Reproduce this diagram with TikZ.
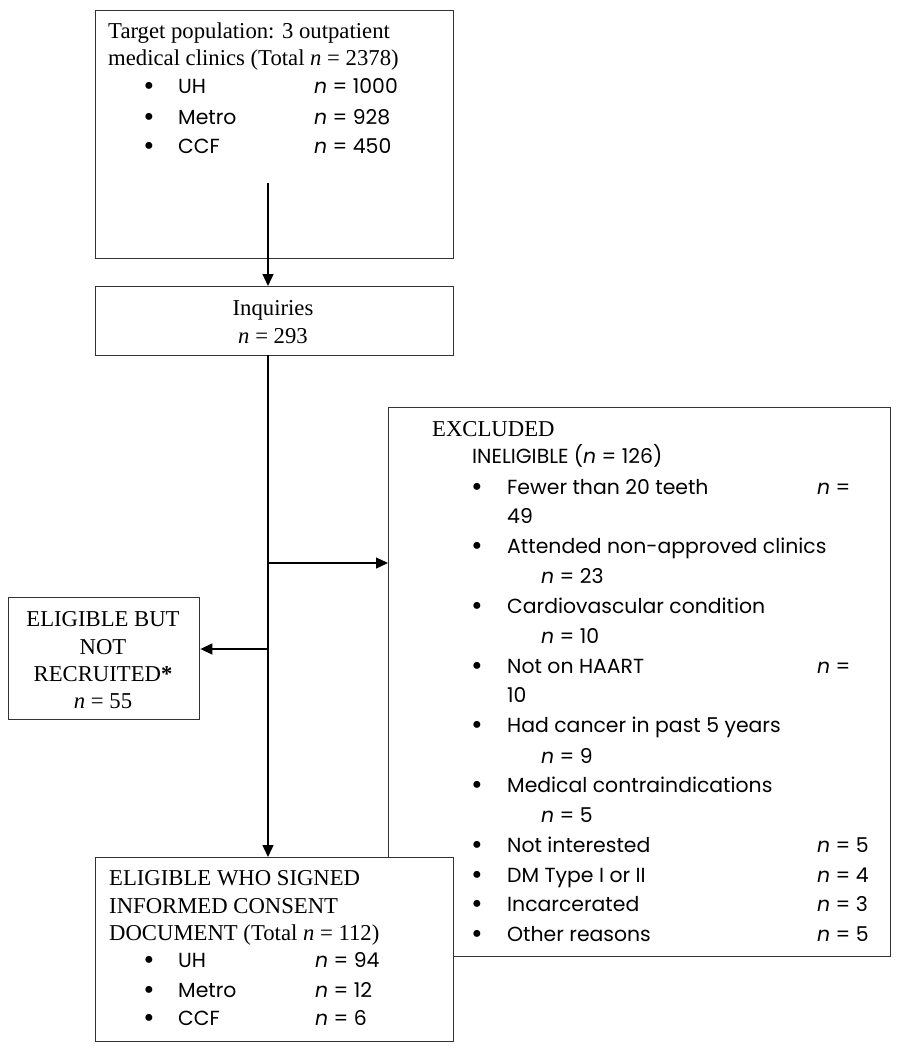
\documentclass[tikz,border=0pt]{standalone}
\usepackage{fontspec}
\setmainfont{Liberation Serif}
\newfontfamily\gothic{Poppins}
\usetikzlibrary{arrows.meta}
\tikzset{
  box/.style={draw=black!80, line width=1.4pt, inner sep=0pt, anchor=north west},
  arr/.style={draw=black, line width=1.4pt, -{Triangle[length=12pt,width=11pt]}},
  rm/.style={inner sep=0pt, anchor=base west, font=\fontsize{22.7}{27}\selectfont},
  rmc/.style={inner sep=0pt, anchor=base, font=\fontsize{22.7}{27}\selectfont},
  sf/.style={inner sep=0pt, anchor=base west, font=\gothic\fontsize{20.4}{27}\selectfont},
  bul/.style={inner sep=0pt, anchor=base, font=\fontsize{29}{27}\selectfont},
}
\begin{document}
\begin{tikzpicture}[x=1pt,y=-1pt]
\useasboundingbox[fill=white] (0,0) rectangle (899,1050);
% boxes
\node[box, minimum width=358pt, minimum height=248pt] (target) at (95,10) {};
\node[box, minimum width=358pt, minimum height=69pt] (inq) at (95,286) {};
\node[box, minimum width=191pt, minimum height=122pt] (notrec) at (8,597) {};
\node[box, minimum width=502pt, minimum height=549pt] (excl) at (388,407) {};
\node[box, fill=white, minimum width=358pt, minimum height=184pt] (cons) at (95,857) {};
% target text
\node[rm] (t1) at (108,38) {Target population: 3 outpatient};
\node[rm] (t2) at (108,65) {medical clinics (Total \textit{n} = 2378)};
\node[bul] (tb1) at (149,95) {•};
\node[sf] (tu1) at (178,93) {UH};
\node[sf] (tn1) at (314,93) {\textit{n} = 1000};
\node[bul] (tb2) at (149,126) {•};
\node[sf] (tu2) at (178,124) {Metro};
\node[sf] (tn2) at (314,124) {\textit{n} = 928};
\node[bul] (tb3) at (149,155) {•};
\node[sf] (tu3) at (178,153) {CCF};
\node[sf] (tn3) at (314,153) {\textit{n} = 450};
% inquiries
\node[rmc] (i1) at (273,315) {Inquiries};
\node[rmc] (i2) at (273,343) {\textit{n} = 293};
% not recruited
\node[rmc] (r1) at (103,626) {ELIGIBLE BUT};
\node[rmc] (r2) at (103,654) {NOT};
\node[rmc] (r3) at (103,681) {RECRUITED\textbf{*}};
\node[rmc] (r4) at (103,708) {\textit{n} = 55};
% excluded
\node[rm] (e0) at (432,436) {EXCLUDED};
\node[sf] (e1) at (472,463) {INELIGIBLE (\textit{n} = 126)};
\node[bul] (eb1) at (477,496) {•};
\node[sf] (e2) at (507,494) {Fewer than 20 teeth};
\node[sf] (e2n) at (817,494) {\textit{n} =};
\node[sf] (e3) at (507,523) {49};
\node[bul] (eb2) at (477,555) {•};
\node[sf] (e4) at (507,553) {Attended non-approved clinics};
\node[sf] (e5) at (541,583) {\textit{n} = 23};
\node[bul] (eb3) at (477,615) {•};
\node[sf] (e6) at (507,613) {Cardiovascular condition};
\node[sf] (e7) at (541,643) {\textit{n} = 10};
\node[bul] (eb4) at (477,675) {•};
\node[sf] (e8) at (507,673) {Not on HAART};
\node[sf] (e8n) at (817,673) {\textit{n} =};
\node[sf] (e9) at (507,702) {10};
\node[bul] (eb5) at (477,734) {•};
\node[sf] (e10) at (507,732) {Had cancer in past 5 years};
\node[sf] (e11) at (541,763) {\textit{n} = 9};
\node[bul] (eb6) at (477,794) {•};
\node[sf] (e12) at (507,792) {Medical contraindications};
\node[sf] (e13) at (541,822) {\textit{n} = 5};
\node[bul] (eb7) at (477,854) {•};
\node[sf] (e14) at (507,852) {Not interested};
\node[sf] (e14n) at (817,852) {\textit{n} = 5};
\node[bul] (eb8) at (477,884) {•};
\node[sf] (e15) at (507,882) {DM Type I or II};
\node[sf] (e15n) at (817,882) {\textit{n} = 4};
\node[bul] (eb9) at (477,913) {•};
\node[sf] (e16) at (507,911) {Incarcerated};
\node[sf] (e16n) at (817,911) {\textit{n} = 3};
\node[bul] (eb10) at (477,943) {•};
\node[sf] (e17) at (507,941) {Other reasons};
\node[sf] (e17n) at (817,941) {\textit{n} = 5};
% consent
\node[rm] (c1) at (109,885) {ELIGIBLE WHO SIGNED};
\node[rm] (c2) at (109,913) {INFORMED CONSENT};
\node[rm] (c3) at (109,940) {DOCUMENT (Total \textit{n} = 112)};
\node[bul] (cb1) at (149,969) {•};
\node[sf] (cu1) at (178,967) {UH};
\node[sf] (cn1) at (315,967) {\textit{n} = 94};
\node[bul] (cb2) at (149,999) {•};
\node[sf] (cu2) at (178,997) {Metro};
\node[sf] (cn2) at (315,997) {\textit{n} = 12};
\node[bul] (cb3) at (149,1027) {•};
\node[sf] (cu3) at (178,1025) {CCF};
\node[sf] (cn3) at (315,1025) {\textit{n} = 6};
% connectors
\coordinate (s1) at (268,183);
\coordinate (s2) at (268,355);
\coordinate (b1) at (268,563);
\coordinate (b2) at (268,649);
\draw[arr] (s1) -- (s1 |- inq.north);
\draw[arr] (s2) -- (s2 |- cons.north);
\draw[arr] (b1) -- (b1 -| excl.west);
\draw[arr] (b2) -- (b2 -| notrec.east);
\end{tikzpicture}
\end{document}
